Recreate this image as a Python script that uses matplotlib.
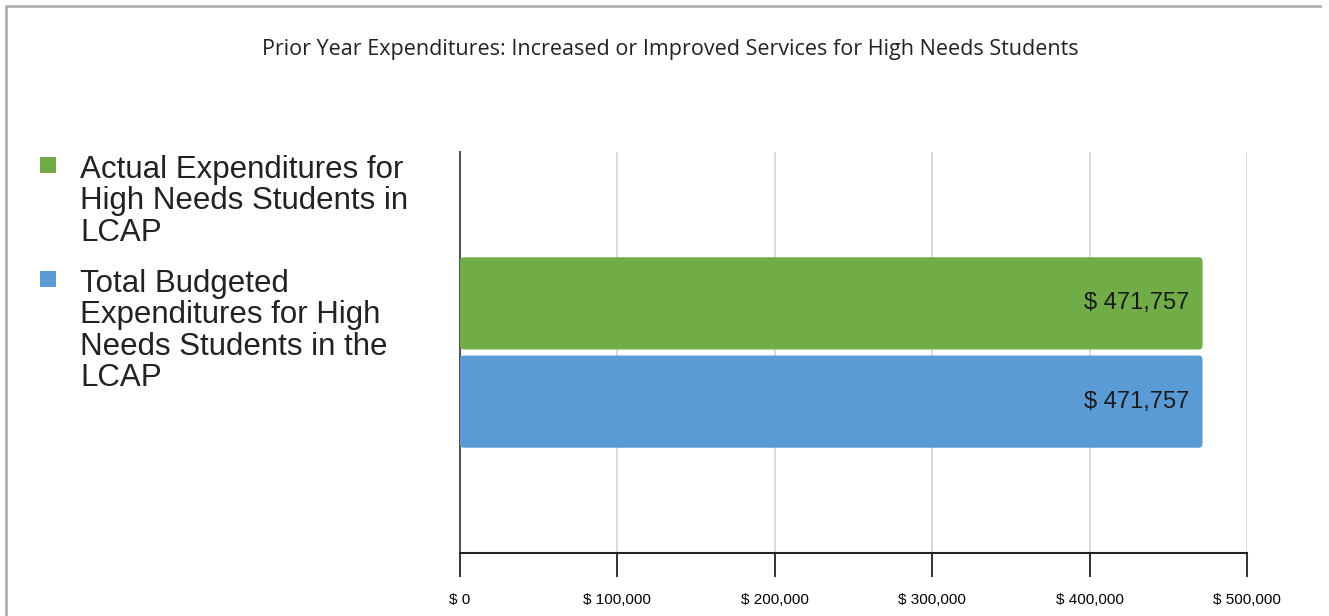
import matplotlib.pyplot as plt
from matplotlib.patches import FancyBboxPatch, Rectangle
from matplotlib.lines import Line2D

# data
series = ['Actual Expenditures for\nHigh Needs Students in\nLCAP',
          'Total Budgeted\nExpenditures for High\nNeeds Students in the\nLCAP']
values = [471757, 471757]
colors = ['#70AD47', '#5B9BD5']
ticks = [0, 100000, 200000, 300000, 400000, 500000]
tick_labels = ['$ 0', '$ 100,000', '$ 200,000', '$ 300,000', '$ 400,000', '$ 500,000']
title = 'Prior Year Expenditures: Increased or Improved Services for High Needs Students'

W, H = 1329, 616
fig = plt.figure(figsize=(W / 100, H / 100), dpi=100)
ax = fig.add_axes([460 / W, (H - 553) / H, 787 / W, 401 / H])

offsets = [0.245, -0.245]
bh = 0.46
xpx = 500000 / 787   # x units per pixel
ypx = 2 / 401        # y units per pixel
for v, off, c in zip(values, offsets, colors):
    r = 4 * xpx
    ax.add_patch(FancyBboxPatch((0, off - bh / 2), v, bh,
                                boxstyle='round,pad=0,rounding_size=%f' % r,
                                mutation_aspect=ypx / xpx,
                                facecolor=c, edgecolor='none', zorder=3))
    ax.text(v - 13 * xpx, off, '$ {:,}'.format(v), ha='right', va='center',
            fontsize=17, family='Liberation Sans', color='#1a1a1a', zorder=4)

ax.set_xlim(0, 500000)
ax.set_ylim(-1, 1)
ax.set_xticks(ticks)
ax.set_xticklabels(tick_labels, fontsize=11, family='Liberation Sans')
ax.set_yticks([])
ax.tick_params(axis='x', length=17, width=1.3, color='#222222', pad=12)
ax.grid(axis='x', color='#d4d4d4', linewidth=1.2, zorder=0)
for s in ['top', 'right']:
    ax.spines[s].set_visible(False)
ax.spines['left'].set_color('#555555')
ax.spines['left'].set_linewidth(1.5)
ax.spines['bottom'].set_color('#222222')
ax.spines['bottom'].set_linewidth(1.5)

fig.text(670 / W, 1 - 50 / H, title, ha='center', va='center',
         fontsize=15.5, family='Open Sans', color='#222222')

# legend on the left
leg_y = [157, 271]
for y, lab, c in zip(leg_y, series, colors):
    fig.patches.append(Rectangle((40 / W, 1 - (y + 16) / H), 16 / W, 16 / H,
                                 transform=fig.transFigure, facecolor=c,
                                 edgecolor='none'))
    fig.text(80 / W, 1 - (y - 2) / H, lab, ha='left', va='top', fontsize=22.5,
             family='Liberation Sans', color='#222222', linespacing=1.06)

# outer frame
fig.lines.append(Line2D([6 / W, 6 / W, 1320 / W], [0, 1 - 6 / H, 1 - 6 / H],
                        transform=fig.transFigure, color='#b0b0b0', linewidth=2))

fig.savefig('out.png', dpi=100)
